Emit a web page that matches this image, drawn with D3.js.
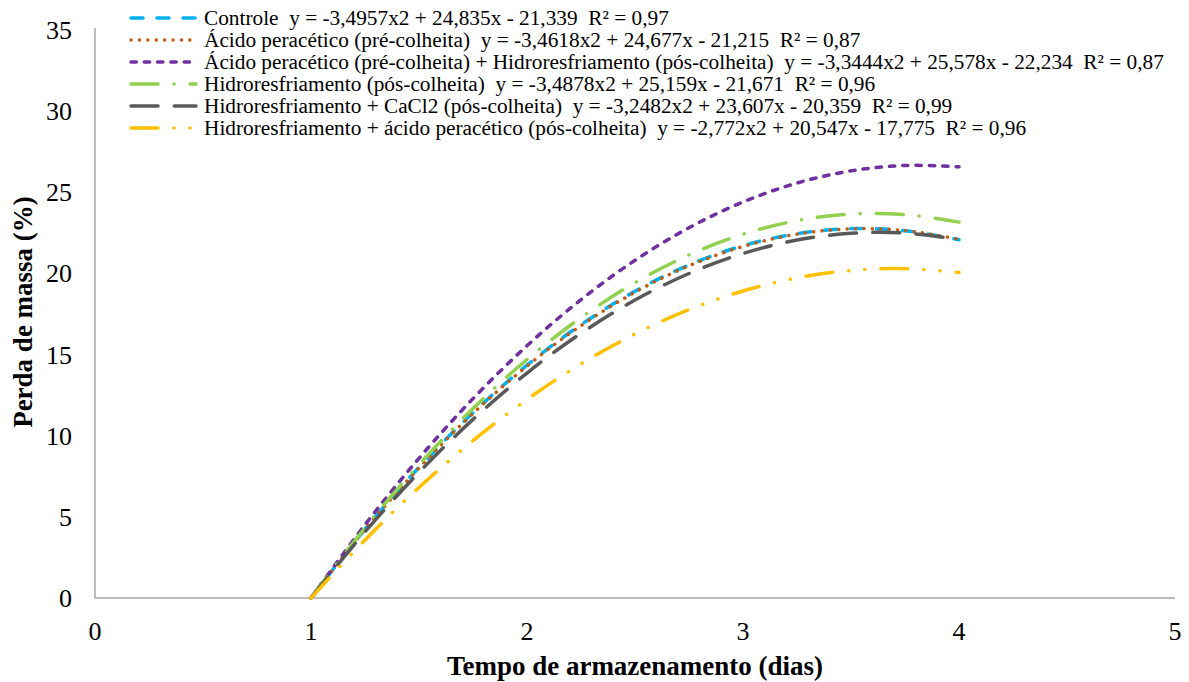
<!DOCTYPE html>
<html><head><meta charset="utf-8">
<script src="https://cdn.jsdelivr.net/npm/d3@7"></script>
<style>body{margin:0;background:#fff}</style>
</head><body><svg id="c" width="1189" height="682" style="font-family:'Liberation Serif','Times New Roman','DejaVu Serif',serif"></svg>
<script>
const days = [1, 1.25, 1.5, 1.75, 2, 2.25, 2.5, 2.75, 3, 3.25, 3.5, 3.75, 4];
const controle = [0.000, 4.243, 8.049, 11.416, 14.348, 16.843, 18.901, 20.521, 21.705, 22.452, 22.762, 22.634, 22.070];
const acidoPre = [0.000, 4.222, 8.012, 11.368, 14.292, 16.783, 18.842, 20.467, 21.660, 22.420, 22.748, 22.642, 22.104];
const acidoHidro = [0.000, 4.513, 8.608, 12.286, 15.544, 18.386, 20.808, 22.814, 24.400, 25.570, 26.320, 26.653, 26.568];
const hidroPos = [0.000, 4.328, 8.220, 11.676, 14.696, 17.280, 19.428, 21.140, 22.416, 23.256, 23.660, 23.628, 23.160];
const hidroCaCl2 = [0.000, 4.075, 7.744, 11.005, 13.862, 16.313, 18.358, 19.995, 21.228, 22.055, 22.476, 22.489, 22.098];
const hidroAcidoPos = [0.000, 3.578, 6.809, 9.693, 12.231, 14.423, 16.268, 17.766, 18.918, 19.723, 20.183, 20.295, 20.061];
const seriesNames = [
  "Controle  y = -3,4957x2 + 24,835x - 21,339  R² = 0,97",
  "Ácido peracético (pré-colheita)  y = -3,4618x2 + 24,677x - 21,215  R² = 0,87",
  "Ácido peracético (pré-colheita) + Hidroresfriamento (pós-colheita)  y = -3,3444x2 + 25,578x - 22,234  R² = 0,87",
  "Hidroresfriamento (pós-colheita)  y = -3,4878x2 + 25,159x - 21,671  R² = 0,96",
  "Hidroresfriamento + CaCl2 (pós-colheita)  y = -3,2482x2 + 23,607x - 20,359  R² = 0,99",
  "Hidroresfriamento + ácido peracético (pós-colheita)  y = -2,772x2 + 20,547x - 17,775  R² = 0,96"
];
const xTicks = [0, 1, 2, 3, 4, 5];
const yTicks = [0, 5, 10, 15, 20, 25, 30, 35];
const xTitle = "Tempo de armazenamento (dias)";
const yTitle = "Perda de massa (%)";

const colors = ["#00B0F0", "#C55A11", "#7030A0", "#92D050", "#595959", "#FFC000"];
const dashes = ["12 14", "0.1 8.3", "5.3 8", "27 16 0.1 16", "27 16.3", "27 16 0.1 16 0.1 16"];
const allSeries = [controle, acidoPre, acidoHidro, hidroPos, hidroCaCl2, hidroAcidoPos];
const FF = "'Liberation Serif','Times New Roman','DejaVu Serif',serif";

const svg = d3.select("#c");
const x = d3.scaleLinear().domain([0, 5]).range([95, 1175]);
const y = d3.scaleLinear().domain([0, 35]).range([598, 30]);

svg.append("line").attr("x1", x(0)).attr("x2", x(0)).attr("y1", y(35) - 2).attr("y2", y(0))
  .attr("stroke", "#A6A6A6").attr("stroke-width", 1.5);
svg.append("line").attr("x1", x(0)).attr("x2", x(5)).attr("y1", y(0)).attr("y2", y(0))
  .attr("stroke", "#A6A6A6").attr("stroke-width", 1.5);

svg.selectAll(".yt").data(yTicks).enter().append("text")
  .attr("font-family", FF)
  .attr("x", 72).attr("y", d => y(d) + 9).attr("text-anchor", "end")
  .attr("font-size", 26).text(d => d);
svg.selectAll(".xt").data(xTicks).enter().append("text")
  .attr("font-family", FF)
  .attr("x", d => x(d)).attr("y", 640).attr("text-anchor", "middle")
  .attr("font-size", 26).text(d => d);

svg.append("text").attr("font-family", FF).attr("x", 635).attr("y", 675).attr("text-anchor", "middle")
  .attr("font-size", 27).attr("font-weight", "bold").text(xTitle);
svg.append("text").attr("font-family", FF).attr("transform", "translate(32,312) rotate(-90)").attr("text-anchor", "middle")
  .attr("font-size", 27).attr("font-weight", "bold").text(yTitle);

const line = d3.line().x((d, i) => x(days[i])).y(d => y(d)).curve(d3.curveCatmullRom);
allSeries.forEach((s, k) => {
  svg.append("path").datum(s).attr("d", line).attr("fill", "none")
    .attr("stroke", colors[k]).attr("stroke-width", 3.5)
    .attr("stroke-dasharray", dashes[k]).attr("stroke-linecap", "round");
});

const lg = svg.append("g");
seriesNames.forEach((n, k) => {
  const yy = 18 + k * 22;
  lg.append("line").attr("x1", 131).attr("x2", 196).attr("y1", yy).attr("y2", yy)
    .attr("stroke", colors[k]).attr("stroke-width", 3.5)
    .attr("stroke-dasharray", dashes[k]).attr("stroke-linecap", "round");
  lg.append("text").attr("font-family", FF).attr("xml:space", "preserve").style("white-space", "pre")
    .attr("x", 204).attr("y", yy + 7)
    .attr("font-size", 21.3).text(n);
});
</script></body></html>
